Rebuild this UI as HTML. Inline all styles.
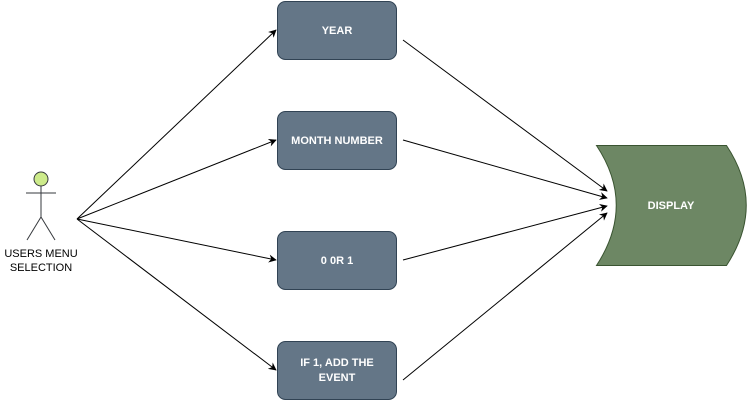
<!DOCTYPE html>
<html><head><meta charset="utf-8"><style>
html,body{margin:0;padding:0;background:#fff;width:747px;height:401px;overflow:hidden}
text{font-family:"Liberation Sans",Arial,sans-serif;font-size:11px;}
</style></head><body>
<svg width="747" height="401" viewBox="0 0 747 401" xmlns="http://www.w3.org/2000/svg">
<defs>
<marker id="a" viewBox="0 0 10 10" refX="9" refY="5" markerWidth="8" markerHeight="8" orient="auto" markerUnits="userSpaceOnUse">
<path d="M0,0 L10,5 L0,10 L3,5 Z" fill="#000"/>
</marker>
</defs>
<g stroke="#000" stroke-width="1" fill="none" marker-end="url(#a)">
<line x1="77" y1="219" x2="276" y2="30"/>
<line x1="77" y1="219" x2="276" y2="140"/>
<line x1="77" y1="219" x2="276" y2="260"/>
<line x1="77" y1="219" x2="276" y2="370"/>
<line x1="403" y1="40" x2="607" y2="191"/>
<line x1="403" y1="140" x2="607" y2="198"/>
<line x1="403" y1="260" x2="607" y2="206"/>
<line x1="403" y1="380" x2="607" y2="213"/>
</g>
<g fill="#647687" stroke="#314354" stroke-width="1">
<rect x="277.5" y="1.5" width="119" height="58" rx="8"/>
<rect x="277.5" y="111.5" width="119" height="58" rx="8"/>
<rect x="277.5" y="231.5" width="119" height="58" rx="8"/>
<rect x="277.5" y="341.5" width="119" height="58" rx="8"/>
</g>
<g fill="#fff" font-weight="bold" text-anchor="middle">
<text x="337" y="34">YEAR</text>
<text x="337" y="144">MONTH NUMBER</text>
<text x="337" y="264">0 0R 1</text>
<text x="337" y="366">IF 1, ADD THE</text>
<text x="337" y="381">EVENT</text>
</g>
<path d="M596.5,145.5 L726.5,145.5 Q766,205 726.5,265.5 L596.5,265.5 Q636,205 596.5,145.5 Z" fill="#6d8764" stroke="#3a5431" stroke-width="1"/>
<text x="671" y="209" fill="#fff" font-weight="bold" text-anchor="middle">DISPLAY</text>
<circle cx="41" cy="179" r="7" fill="#cdeb8b" stroke="#36393d" stroke-width="1"/>
<g stroke="#36393d" stroke-width="1" fill="none">
<line x1="41" y1="186" x2="41" y2="217"/>
<line x1="26" y1="193" x2="56" y2="193"/>
<line x1="41" y1="217" x2="27" y2="240"/>
<line x1="41" y1="217" x2="55" y2="240"/>
</g>
<text x="41" y="257" text-anchor="middle" fill="#000">USERS MENU</text>
<text x="41" y="271" text-anchor="middle" fill="#000">SELECTION</text>
</svg>
</body></html>
